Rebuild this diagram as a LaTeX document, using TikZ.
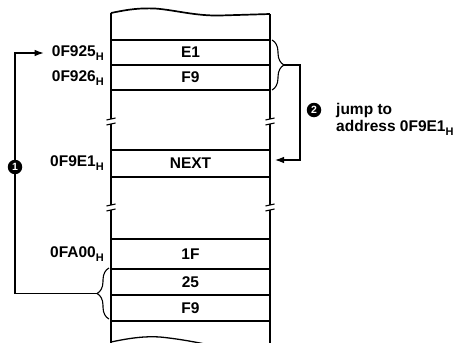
\documentclass[tikz,border=0pt]{standalone}
\usepackage{fontspec}
\setmainfont{Liberation Sans}
\usetikzlibrary{arrows.meta,decorations.pathreplacing}
\newcommand{\addrH}[1]{#1\raisebox{-0.45ex}{\fontsize{11}{11}\selectfont H}}

\begin{document}
\begin{tikzpicture}[x=1pt,y=-1pt,
  font=\fontsize{15.5}{17}\selectfont\bfseries,
  wall/.style={line width=1.7pt},
  row/.style={line width=1.1pt},
  addr/.style={anchor=east,inner sep=0pt},
  numdot/.style={circle,fill=black,text=white,inner sep=0pt,minimum size=14.5pt,
    font=\fontsize{10.5}{10.5}\selectfont\bfseries},
  jump/.style={line width=1.1pt,-{Latex[length=9pt,width=6.5pt]}},
  curly/.style={line width=1.1pt,decorate,decoration={brace,amplitude=12pt}}]
\useasboundingbox (0,0) rectangle (456,343);

% memory column, torn at top and bottom
\draw[wall] (111,13) .. controls (130,9) and (140,8) .. (155,8.5)
  .. controls (175,10) and (195,16) .. (220,15.5) -- (270,14);
\draw[line width=1.3pt] (111,342) .. controls (130,338) and (145,336) .. (160,337)
  .. controls (180,339) and (195,342) .. (215,346);
\draw[wall] (270,14) -- (270,119);
\foreach \bx in {111,270} {
  \draw[wall] (\bx,124) -- (\bx,205);
  \draw[wall] (\bx,210) -- (\bx,343);
}
\draw[wall] (111,13) -- (111,119);
% break marks
\foreach \bx in {111,270}
  \foreach \by in {121,207} {
    \draw[row] (\bx-4.5,\by-1) -- (\bx+4.5,\by-3);
    \draw[row] (\bx-4.5,\by+4) -- (\bx+4.5,\by+2);
  }
\foreach \cy in {40,65,90,150,177,239,269,295,321}
  \draw[row] (111,\cy) -- (270,\cy);

% cell contents
\node (e1) at (190.5,52.5) {E1};
\node (f9a) at (190.5,77.5) {F9};
\node (next) at (190.5,163.5) {NEXT};
\node (c1f) at (190.5,254) {1F};
\node (c25) at (190.5,282) {25};
\node (f9b) at (190.5,308) {F9};

% addresses
\node[addr] (a925) at (104,53) {\addrH{0F925}};
\node[addr] (a926) at (104,78) {\addrH{0F926}};
\node[addr] (ae1) at (104,163) {\addrH{0F9E1}};
\node[addr] (aa00) at (104,254) {\addrH{0FA00}};

% step 1: back to 0F925
\draw[curly] (109,319) -- (109,268);
\coordinate (tipL) at (97,293.5);
\coordinate (downL) at (15,293.5);
\coordinate (upL) at (15,53);
\draw[jump] (tipL) -- (downL) -- (upL) -- ([xshift=-8pt]a925.west);
\node[numdot] (one) at (15,167) {1};

% step 2: jump to 0F9E1
\draw[curly] (272,40) -- (272,90);
\coordinate (tipR) at (284,65);
\coordinate (turnR) at (300,65);
\coordinate (downR) at (300,160);
\coordinate (hitR) at (275,160);
\draw[jump] (tipR) -- (turnR) -- (downR) -- (hitR);
\node[numdot] (two) at (314,110) {2};
\node[anchor=west,inner sep=0pt] (jmp) at (336,110) {jump to};
\node[anchor=west,inner sep=0pt] (adr) at (336,128) {address \addrH{0F9E1}};
\end{tikzpicture}
\end{document}
